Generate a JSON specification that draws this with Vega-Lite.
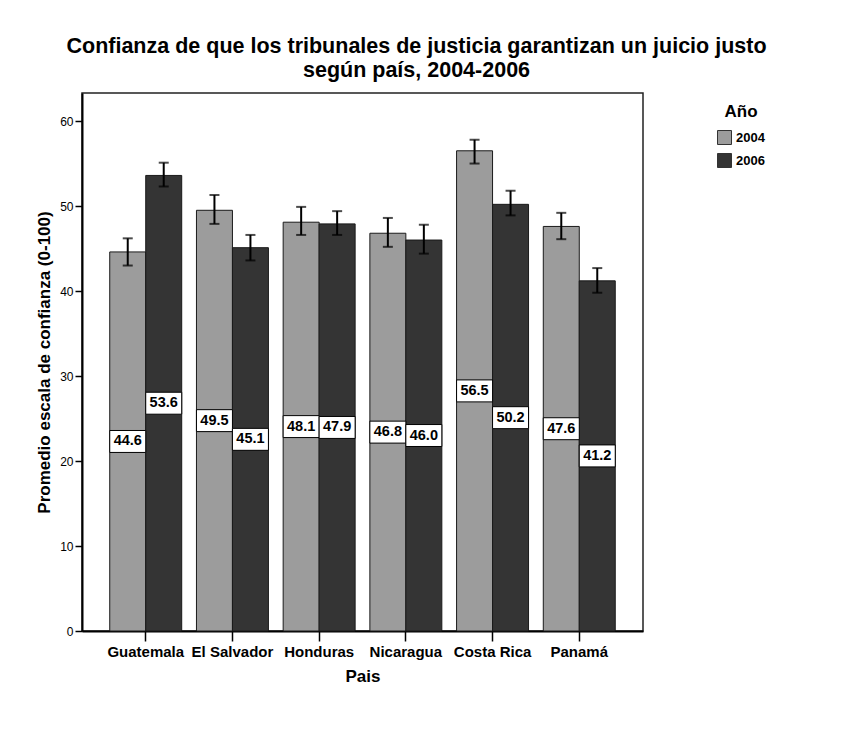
{
  "$schema": "https://vega.github.io/schema/vega-lite/v6.json",
  "width": 561,
  "height": 538,
  "autosize": {"type": "none"},
  "padding": {"left": 82, "top": 93, "right": 202, "bottom": 123},
  "background": "white",
  "title": {
    "text": ["Confianza de que los tribunales de justicia garantizan un juicio justo", "según país, 2004-2006"],
    "anchor": "middle",
    "dx": 54,
    "offset": 12,
    "fontSize": 21.5,
    "font": "Liberation Sans",
    "fontWeight": "bold",
    "color": "black",
    "lineHeight": 24
  },
  "config": {
    "view": {"stroke": "#222222", "strokeWidth": 1.5},
    "font": "Liberation Sans"
  },
  "data": {
    "values": [
      {"pais": "Guatemala", "anio": "2004", "v": 44.6, "lo": 43.0, "hi": 46.2},
      {"pais": "Guatemala", "anio": "2006", "v": 53.6, "lo": 52.3, "hi": 55.1},
      {"pais": "El Salvador", "anio": "2004", "v": 49.5, "lo": 47.9, "hi": 51.3},
      {"pais": "El Salvador", "anio": "2006", "v": 45.1, "lo": 43.6, "hi": 46.6},
      {"pais": "Honduras", "anio": "2004", "v": 48.1, "lo": 46.6, "hi": 49.9},
      {"pais": "Honduras", "anio": "2006", "v": 47.9, "lo": 46.6, "hi": 49.4},
      {"pais": "Nicaragua", "anio": "2004", "v": 46.8, "lo": 45.2, "hi": 48.6},
      {"pais": "Nicaragua", "anio": "2006", "v": 46.0, "lo": 44.4, "hi": 47.8},
      {"pais": "Costa Rica", "anio": "2004", "v": 56.5, "lo": 55.0, "hi": 57.8},
      {"pais": "Costa Rica", "anio": "2006", "v": 50.2, "lo": 48.9, "hi": 51.8},
      {"pais": "Panamá", "anio": "2004", "v": 47.6, "lo": 46.1, "hi": 49.2},
      {"pais": "Panamá", "anio": "2006", "v": 41.2, "lo": 39.8, "hi": 42.7}
    ]
  },
  "encoding": {
    "x": {
      "field": "pais",
      "type": "nominal",
      "sort": ["Guatemala", "El Salvador", "Honduras", "Nicaragua", "Costa Rica", "Panamá"],
      "scale": {"paddingInner": 0.17, "paddingOuter": 0.32},
      "axis": {
        "title": "Pais",
        "titleFontSize": 17,
        "titleFontWeight": "bold",
        "titleColor": "black",
        "titlePadding": 9,
        "labelAngle": 0,
        "labelFontSize": 15,
        "labelFontWeight": "bold",
        "labelColor": "black",
        "labelPadding": 3,
        "tickSize": 10,
        "tickColor": "black",
        "tickWidth": 1.5,
        "domainColor": "black",
        "domainWidth": 2
      }
    },
    "xOffset": {"field": "anio", "type": "nominal", "sort": ["2004", "2006"]}
  },
  "layer": [
    {
      "mark": {"type": "bar", "stroke": "#1a1a1a", "strokeWidth": 1},
      "encoding": {
        "y": {
          "field": "v",
          "type": "quantitative",
          "scale": {"domain": [0, 63.3], "nice": false},
          "axis": {
            "title": "Promedio escala de confianza (0-100)",
            "titleFontSize": 17,
            "titleFontWeight": "bold",
            "titleColor": "black",
            "titlePadding": 6,
            "values": [0, 10, 20, 30, 40, 50, 60],
            "grid": false,
            "labelFontSize": 12,
            "labelColor": "black",
            "labelPadding": 2,
            "tickSize": 7,
            "tickColor": "black",
            "tickWidth": 1.5,
            "domainColor": "black",
            "domainWidth": 2
          }
        },
        "color": {
          "field": "anio",
          "type": "nominal",
          "scale": {"domain": ["2004", "2006"], "range": ["#9c9c9c", "#343434"]},
          "legend": {
            "title": "Año",
            "orient": "none",
            "legendX": 635,
            "legendY": 11,
            "titleFontSize": 17,
            "titleFontWeight": "bold",
            "titleColor": "black",
            "titleAnchor": "middle",
            "titlePadding": 9,
            "labelFontSize": 13,
            "labelFontWeight": "bold",
            "labelColor": "black",
            "symbolType": "square",
            "symbolSize": 196,
            "symbolStrokeColor": "#333333",
            "symbolStrokeWidth": 1,
            "symbolOpacity": 1,
            "rowPadding": 4,
            "labelOffset": 4
          }
        }
      }
    },
    {
      "mark": {"type": "rule", "color": "black", "strokeWidth": 2},
      "encoding": {
        "y": {"field": "lo", "type": "quantitative"},
        "y2": {"field": "hi"}
      }
    },
    {
      "mark": {"type": "tick", "color": "black", "size": 10, "thickness": 2},
      "encoding": {"y": {"field": "lo", "type": "quantitative"}}
    },
    {
      "mark": {"type": "tick", "color": "black", "size": 10, "thickness": 2},
      "encoding": {"y": {"field": "hi", "type": "quantitative"}}
    },
    {
      "transform": [{"calculate": "datum.v / 2", "as": "mid"}],
      "mark": {
        "type": "point",
        "shape": "M-1,-0.61L1,-0.61L1,0.61L-1,0.61Z",
        "size": 1296,
        "filled": true,
        "fill": "white",
        "stroke": "black",
        "strokeWidth": 1,
        "opacity": 1
      },
      "encoding": {"y": {"field": "mid", "type": "quantitative"}}
    },
    {
      "transform": [{"calculate": "datum.v / 2", "as": "mid"}],
      "mark": {"type": "text", "fontSize": 14.5, "fontWeight": "bold", "color": "black", "baseline": "middle", "align": "center"},
      "encoding": {
        "y": {"field": "mid", "type": "quantitative"},
        "text": {"field": "v", "type": "quantitative", "format": ".1f"}
      }
    }
  ]
}
